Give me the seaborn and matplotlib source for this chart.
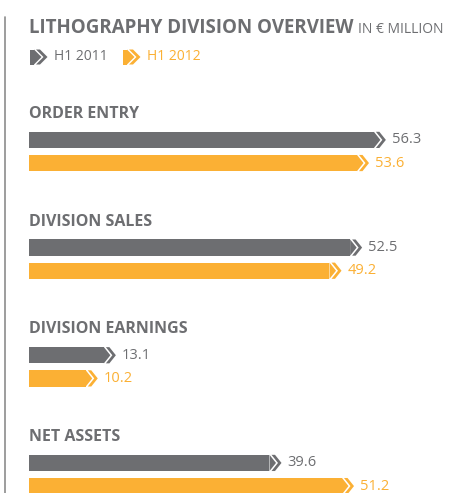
import pandas as pd
import seaborn as sns
import matplotlib.pyplot as plt
from matplotlib.patches import Polygon
from matplotlib.lines import Line2D
from matplotlib.transforms import Affine2D

# Data
metrics = ['ORDER ENTRY', 'DIVISION SALES', 'DIVISION EARNINGS', 'NET ASSETS']
periods = ['H1 2011', 'H1 2012']
h1_2011 = [56.3, 52.5, 13.1, 39.6]
h1_2012 = [53.6, 49.2, 10.2, 51.2]

GRAY = '#6d6e71'
ORANGE = '#fbb034'
colors = [GRAY, ORANGE]

df = pd.DataFrame({
    'metric': metrics * 2,
    'period': [periods[0]] * 4 + [periods[1]] * 4,
    'value': h1_2011 + h1_2012,
})

W, H = 452, 493
sns.set_style('white')
plt.rcParams['font.family'] = ['Open Sans', 'DejaVu Sans']

fig = plt.figure(figsize=(W / 100, H / 100), dpi=100)
px = Affine2D().scale(1, -1).translate(0, H)  # top-down pixel coords

# axes: bars start at x=29px, 6.25 px per unit
k = 6.25
ax = fig.add_axes([29 / W, 0, (W - 29) / W, 1])
sns.barplot(data=df, x='value', y='metric', hue='period', palette=colors,
            orient='h', width=0.43, gap=0.3, saturation=1, linewidth=0,
            legend=False, ax=ax)
x0 = 7 / k
ax.set_xlim(x0, x0 + (W - 29) / k)
gs = 107.7
ax.set_ylim(3 + (H - 474.5) / gs, -151.5 / gs)
ax.axis('off')


def arrow_shapes(xe, yc, h, tip, gap, t):
    top, bot = yc - h / 2, yc + h / 2
    head = [(xe, top), (xe + tip, yc), (xe, bot)]
    a = xe + gap
    chev = [(a, top), (a + t, top), (a + t + tip, yc), (a + t, bot),
            (a, bot), (a + tip, yc)]
    return head, chev


# arrow tips and value labels on each bar
for cont, vals, col in zip(ax.containers, [h1_2011, h1_2012], colors):
    for p, v in zip(cont, vals):
        xe = p.get_width()
        yc = p.get_y() + p.get_height() / 2
        head, chev = arrow_shapes(xe, yc, p.get_height(), 6.5 / k, 2 / k, 3.5 / k)
        ax.add_patch(Polygon(head, closed=True, color=col, lw=0, clip_on=False))
        ax.add_patch(Polygon(chev, closed=True, color=col, lw=0, clip_on=False))
        ax.text(xe + 18 / k, yc, f'{v:.1f}', color=col, fontsize=10.5,
                va='center', ha='left')

# section headers
for i, m in enumerate(metrics):
    ax.text(x0, i - 0.31, m, color=GRAY, fontsize=11.5, fontweight='bold',
            va='baseline', ha='left')

# title
fig.text(29, 33, 'LITHOGRAPHY DIVISION OVERVIEW', transform=px, color=GRAY,
         fontsize=13.5, fontweight='bold', va='baseline', ha='left')
fig.text(358, 33, 'IN € MILLION', transform=px, color=GRAY, fontsize=10,
         va='baseline', ha='left')

# legend
for lx, lab, col in [(30, periods[0], GRAY), (123, periods[1], ORANGE)]:
    head, chev = arrow_shapes(lx + 4, 57, 15, 7.5, 2, 4)
    body = [(lx, 49.5), (lx + 4, 49.5), (lx + 4, 64.5), (lx, 64.5)]
    for shp in (body, head, chev):
        fig.add_artist(Polygon(shp, closed=True, color=col, lw=0, transform=px))
    fig.text(lx + 24, 57, lab, transform=px, color=col, fontsize=10,
             va='center', ha='left')

# left rule
fig.add_artist(Line2D([5, 5], [17, H], transform=px, color='#8c8c8c', lw=1.2))

plt.savefig('out.png', dpi=100)
